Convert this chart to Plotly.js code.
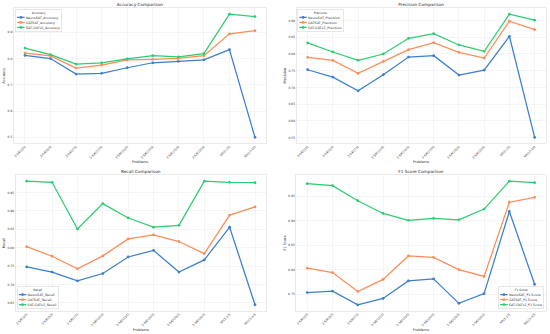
<!DOCTYPE html>
<html>
<head>
<meta charset="utf-8">
<script src="https://cdn.plot.ly/plotly-3.0.1.min.js"></script>
<style>
html, body { margin:0; padding:0; overflow:hidden; background:#fff; width:550px; height:334px; }
#chart { width:2200px; height:1336px; transform:scale(0.25); transform-origin:0 0; }
</style>
</head>
<body>
<div id="chart"></div>
<script>
const problems = ['3-SAT(30)','3-SAT(50)','3-SAT(70)','3-SAT(100)','3-SAT(150)','3-SAT(200)','3-SAT(250)','3-SAT(300)','SR(3-10)','SR(10-40)'];

const accNeuro = [0.812, 0.800, 0.741, 0.744, 0.765, 0.784, 0.789, 0.795, 0.834, 0.500];
const accGat   = [0.821, 0.810, 0.764, 0.775, 0.795, 0.797, 0.801, 0.811, 0.894, 0.906];
const accV2    = [0.840, 0.815, 0.779, 0.784, 0.799, 0.811, 0.806, 0.819, 0.969, 0.960];

const precNeuro = [0.753, 0.731, 0.690, 0.738, 0.791, 0.795, 0.737, 0.752, 0.853, 0.551];
const precGat   = [0.790, 0.781, 0.742, 0.778, 0.813, 0.834, 0.805, 0.788, 0.898, 0.873];
const precV2    = [0.833, 0.806, 0.781, 0.800, 0.847, 0.861, 0.827, 0.808, 0.919, 0.901];

const recNeuro = [0.748, 0.734, 0.710, 0.730, 0.775, 0.793, 0.734, 0.767, 0.856, 0.645];
const recGat   = [0.803, 0.777, 0.743, 0.778, 0.824, 0.835, 0.817, 0.784, 0.889, 0.911];
const recV2    = [0.981, 0.978, 0.851, 0.920, 0.881, 0.856, 0.861, 0.981, 0.978, 0.977];

const f1Neuro = [0.753, 0.756, 0.728, 0.741, 0.777, 0.781, 0.731, 0.751, 0.919, 0.770];
const f1Gat   = [0.803, 0.794, 0.755, 0.780, 0.828, 0.825, 0.800, 0.786, 0.938, 0.948];
const f1V2    = [0.976, 0.972, 0.941, 0.915, 0.901, 0.905, 0.902, 0.924, 0.981, 0.978];

const metrics = ['Accuracy', 'Precision', 'Recall', 'F1 Score'];
const seriesNames = ['NeuroSAT', 'GATSAT', 'SAT-GATv2'];
const colors = ['#3b7fcf', '#fc8d59', '#2ecc71'];
const data = [
  [accNeuro, accGat, accV2],
  [precNeuro, precGat, precV2],
  [recNeuro, recGat, recV2],
  [f1Neuro, f1Gat, f1V2]
];

const FONT = 'DejaVu Sans, Liberation Sans, sans-serif';
const traces = [];
data.forEach((grp, i) => {
  grp.forEach((vals, j) => {
    traces.push({
      type: 'scatter', mode: 'lines+markers',
      x: problems, y: vals,
      name: seriesNames[j] + '_' + metrics[i],
      xaxis: i === 0 ? 'x' : 'x' + (i + 1),
      yaxis: i === 0 ? 'y' : 'y' + (i + 1),
      legend: i === 0 ? 'legend' : 'legend' + (i + 1),
      line: { color: colors[j], width: 5 },
      marker: { color: colors[j], size: 11 }
    });
  });
});

function yRange(grp) {
  const all = [].concat(...grp);
  const mn = Math.min(...all), mx = Math.max(...all);
  const pad = (mx - mn) * 0.05;
  return [mn - pad, mx + pad];
}

const xDomains = [[0.0245, 0.4845], [0.5387, 0.9927], [0.0278, 0.4844], [0.538, 0.9927]];
const yDomains = [[0.5704, 0.976], [0.5704, 0.976], [0.0689, 0.476], [0.0689, 0.476]];
const dticks = [0.1, 0.05, 0.05, 0.05];
const tfmt = ['.1f', '.2f', '.2f', '.2f'];

const layout = {
  width: 2200, height: 1336,
  margin: { l: 0, r: 0, t: 0, b: 0 },
  paper_bgcolor: '#ffffff', plot_bgcolor: '#ffffff',
  font: { family: FONT, size: 13, color: '#333333' },
  showlegend: true,
  annotations: []
};

const legendPos = [
  { x: 0.028, y: 0.972, xanchor: 'left', yanchor: 'top' },
  { x: 0.541, y: 0.972, xanchor: 'left', yanchor: 'top' },
  { x: 0.031, y: 0.075, xanchor: 'left', yanchor: 'bottom' },
  { x: 0.989, y: 0.075, xanchor: 'right', yanchor: 'bottom' }
];

for (let i = 0; i < 4; i++) {
  const sx = i === 0 ? '' : String(i + 1);
  layout['xaxis' + sx] = {
    domain: xDomains[i], anchor: 'y' + sx,
    type: 'category', range: [-0.45, 9.45],
    tickangle: -45, tickfont: { size: 12, family: FONT, color: '#333' },
    showgrid: true, gridcolor: '#ebebeb', gridwidth: 2,
    showline: true, mirror: true, linecolor: '#d6d6d6', linewidth: 2,
    ticks: '', zeroline: false,
    title: { text: 'Problems', font: { size: 14, family: FONT, color: '#333' }, standoff: 6 }
  };
  layout['yaxis' + sx] = {
    domain: yDomains[i], anchor: 'x' + sx,
    range: yRange(data[i]), dtick: dticks[i], tick0: 0, tickformat: tfmt[i],
    tickfont: { size: 12, family: FONT, color: '#333' },
    showgrid: true, gridcolor: '#ebebeb', gridwidth: 2,
    showline: true, mirror: true, linecolor: '#d6d6d6', linewidth: 2,
    ticks: '', zeroline: false,
    title: { text: metrics[i], font: { size: 14, family: FONT, color: '#333' }, standoff: 6 }
  };
  layout[i === 0 ? 'legend' : 'legend' + (i + 1)] = Object.assign({
    xref: 'paper', yref: 'paper',
    bgcolor: 'rgba(255,255,255,0.85)', bordercolor: '#d0d0d0', borderwidth: 2,
    font: { size: 13, family: FONT, color: '#333' },
    title: { text: metrics[i], side: 'top center', font: { size: 12, family: FONT, color: '#333' } },
    itemwidth: 30, tracegroupgap: 0
  }, legendPos[i]);
  layout.annotations.push({
    text: metrics[i] + ' Comparison', showarrow: false,
    xref: 'paper', yref: 'paper',
    x: (xDomains[i][0] + xDomains[i][1]) / 2, y: yDomains[i][1],
    xanchor: 'center', yanchor: 'bottom', yshift: 4,
    font: { size: 17, family: FONT, color: '#222' }
  });
}

Plotly.newPlot('chart', traces, layout, { displayModeBar: false, staticPlot: true });
</script>
</body>
</html>
